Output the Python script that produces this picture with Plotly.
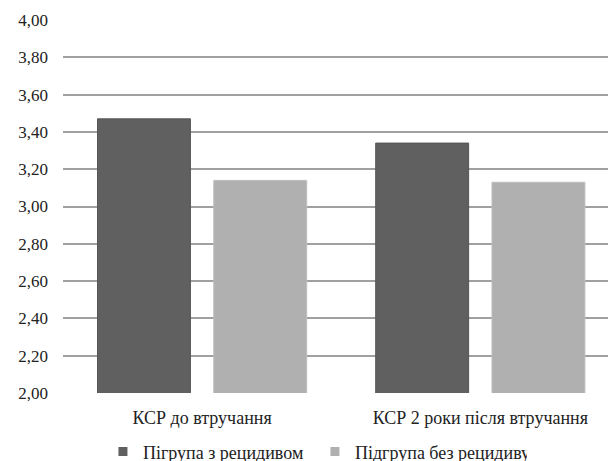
import plotly.graph_objects as go

categories = ["КСР до втручання", "КСР 2 роки після втручання"]
series_names = ["Пігрупа з рецидивом", "Підгрупа без рецидиву"]
series_colors = ["#606060", "#b0b0b0"]
with_relapse = [3.47, 3.34]
without_relapse = [3.14, 3.13]
tick_values = [2.0, 2.2, 2.4, 2.6, 2.8, 3.0, 3.2, 3.4, 3.6, 3.8, 4.0]
tick_labels = ["2,00", "2,20", "2,40", "2,60", "2,80", "3,00",
               "3,20", "3,40", "3,60", "3,80", "4,00"]

FONT = "Liberation Serif, Times New Roman, serif"

fig = go.Figure()
fig.add_trace(go.Bar(
    x=[0, 1], y=with_relapse, name=series_names[0], showlegend=False,
    width=0.334, offset=-0.376,
    marker=dict(color=series_colors[0], line=dict(color="#555555", width=1)),
))
fig.add_trace(go.Bar(
    x=[0, 1], y=without_relapse, name=series_names[1], showlegend=False,
    width=0.334, offset=0.042,
    marker=dict(color=series_colors[1], line=dict(color="#bdbdbd", width=1)),
))

# small square legend keys
for name, color in zip(series_names, series_colors):
    fig.add_trace(go.Scatter(
        x=[None], y=[None], mode="markers", name=name,
        marker=dict(symbol="square", size=9, color=color),
    ))

fig.update_layout(
    width=608, height=461,
    margin=dict(l=63, r=0, t=20, b=68, autoexpand=False),
    paper_bgcolor="white", plot_bgcolor="white",
    font=dict(family=FONT, size=17, color="#222222"),
    barmode="overlay",
    showlegend=True,
    legend=dict(orientation="h", x=0.518, xref="container", xanchor="center",
                y=0.02, yref="container", yanchor="middle",
                font=dict(size=18, family=FONT),
                itemwidth=30, tracegroupgap=0, traceorder="normal",
                entrywidthmode="pixels", entrywidth=167),
    xaxis=dict(range=[-0.5, 1.459], tickmode="array", tickvals=[0, 1],
               ticktext=categories, showgrid=False, zeroline=False,
               showline=False, ticks="", ticklabelstandoff=12,
               automargin=False, tickfont=dict(size=18, family=FONT)),
    yaxis=dict(range=[2.0, 4.0], tickmode="array", tickvals=tick_values,
               ticktext=tick_labels, showgrid=True, gridcolor="#a0a0a0",
               gridwidth=1.5, zeroline=False, showline=False, ticks="",
               automargin=False, ticklabelstandoff=14,
               tickfont=dict(size=17, family=FONT)),
)

fig.write_html("out.html")
